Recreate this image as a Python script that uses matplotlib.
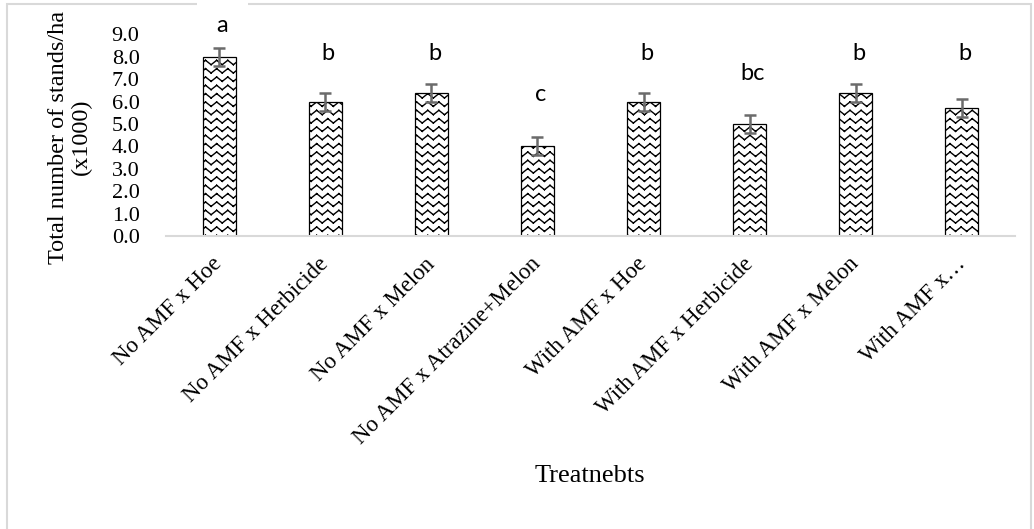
import matplotlib
matplotlib.use("Agg")
import matplotlib.pyplot as plt
import matplotlib.hatch as mhatch
from matplotlib.patches import Rectangle
import numpy as np

# ---------------- data ----------------
categories = ["No AMF x Hoe", "No AMF x Herbicide", "No AMF x Melon",
              "No AMF x Atrazine+Melon", "With AMF x Hoe",
              "With AMF x Herbicide", "With AMF x Melon", "With AMF x\u2026"]
values = [8.0, 6.0, 6.4, 4.0, 6.0, 5.0, 6.4, 5.7]
errors = [0.4, 0.4, 0.4, 0.4, 0.4, 0.4, 0.4, 0.4]
letters = ["a", "b", "b", "c", "b", "bc", "b", "b"]
letter_y = [9.40, 8.16, 8.16, 6.30, 8.16, 7.26, 8.16, 8.16]
yticks = [0, 1, 2, 3, 4, 5, 6, 7, 8, 9]
ylabel = "Total number of stands/ha\n(x1000)"
xlabel = "Treatnebts"


# ---------------- zigzag hatch (each stroke its own sub-path) ----------------
class ZigZagHatch(mhatch.HatchPatternBase):
    rows = 12
    periods = 9
    amp = 0.022

    def __init__(self, hatch, density):
        self.active = '-' in hatch
        self.segs = 2 * self.periods
        self.num_vertices = self.rows * self.segs * 2 if self.active else 0

    def set_vertices_and_codes(self, vertices, codes):
        k = 0
        for r in range(self.rows):
            yc = (r + 0.5) / self.rows
            for j in range(self.segs):
                for jj in (j, j + 1):
                    xx = jj / self.segs
                    yy = yc + (self.amp if jj % 2 else -self.amp)
                    vertices[k] = (xx, yy)
                    codes[k] = mhatch.Path.MOVETO if jj == j else mhatch.Path.LINETO
                    k += 1


mhatch._hatch_types = [ZigZagHatch]
plt.rcParams['hatch.linewidth'] = 1.0
plt.rcParams['hatch.color'] = 'black'

W, H = 1034, 529
fig = plt.figure(figsize=(W / 100, H / 100), dpi=100)
ax = fig.add_axes([166 / W, 1 - 236 / H, (1015 - 166) / W, (236 - 34.4) / H])

x = np.arange(len(categories))
ax.bar(x, values, width=0.31, color='white', edgecolor='black',
       linewidth=0.9, hatch='-', zorder=2)
ax.errorbar(x, values, yerr=errors, fmt='none', ecolor='#6b6b6b',
            elinewidth=1.8, capsize=4.2, capthick=1.8, zorder=3)

for xi, lt, ly in zip(x, letters, letter_y):
    ax.text(xi + 0.03, ly, lt, ha='center', va='center', fontsize=17,
            family=['Lato', 'DejaVu Sans'], clip_on=False, zorder=4)

ax.set_xlim(-0.5, len(categories) - 0.5)
ax.set_ylim(0, 9)
ax.set_yticks(yticks)
ax.set_yticklabels([f"{v:.1f}" for v in yticks], family='Liberation Serif',
                   fontsize=16)
ax.set_xticks(x)
ax.set_xticklabels(categories, rotation=45, ha='right', va='center',
                   rotation_mode='anchor', family='Liberation Serif',
                   fontsize=16.5)
ax.tick_params(axis='y', length=0, pad=19)
ax.tick_params(axis='x', length=0, pad=18)
for s in ['top', 'right', 'left']:
    ax.spines[s].set_visible(False)
ax.spines['bottom'].set_color('#d9d9d9')
ax.spines['bottom'].set_linewidth(1.5)

fig.text(70 / W, 1 - 137 / H, ylabel, rotation=90, ha='center', va='center',
         multialignment='center', family='Liberation Serif', fontsize=17.5,
         linespacing=1.1)
fig.text(590 / W, 1 - 476 / H, xlabel, ha='center', va='center',
         family='Liberation Serif', fontsize=19)

# chart-area border
fig.patches.append(Rectangle((7 / W, -0.02), (1031 - 7) / W, (H - 4) / H + 0.02,
                             transform=fig.transFigure, fill=False,
                             edgecolor='#d9d9d9', linewidth=1.5, zorder=0))
fig.patches.append(Rectangle((197 / W, 1 - 10 / H), (248 - 197) / W, 10 / H,
                             transform=fig.transFigure, facecolor='white',
                             edgecolor='none', zorder=1))

fig.savefig("out.png", dpi=100)
